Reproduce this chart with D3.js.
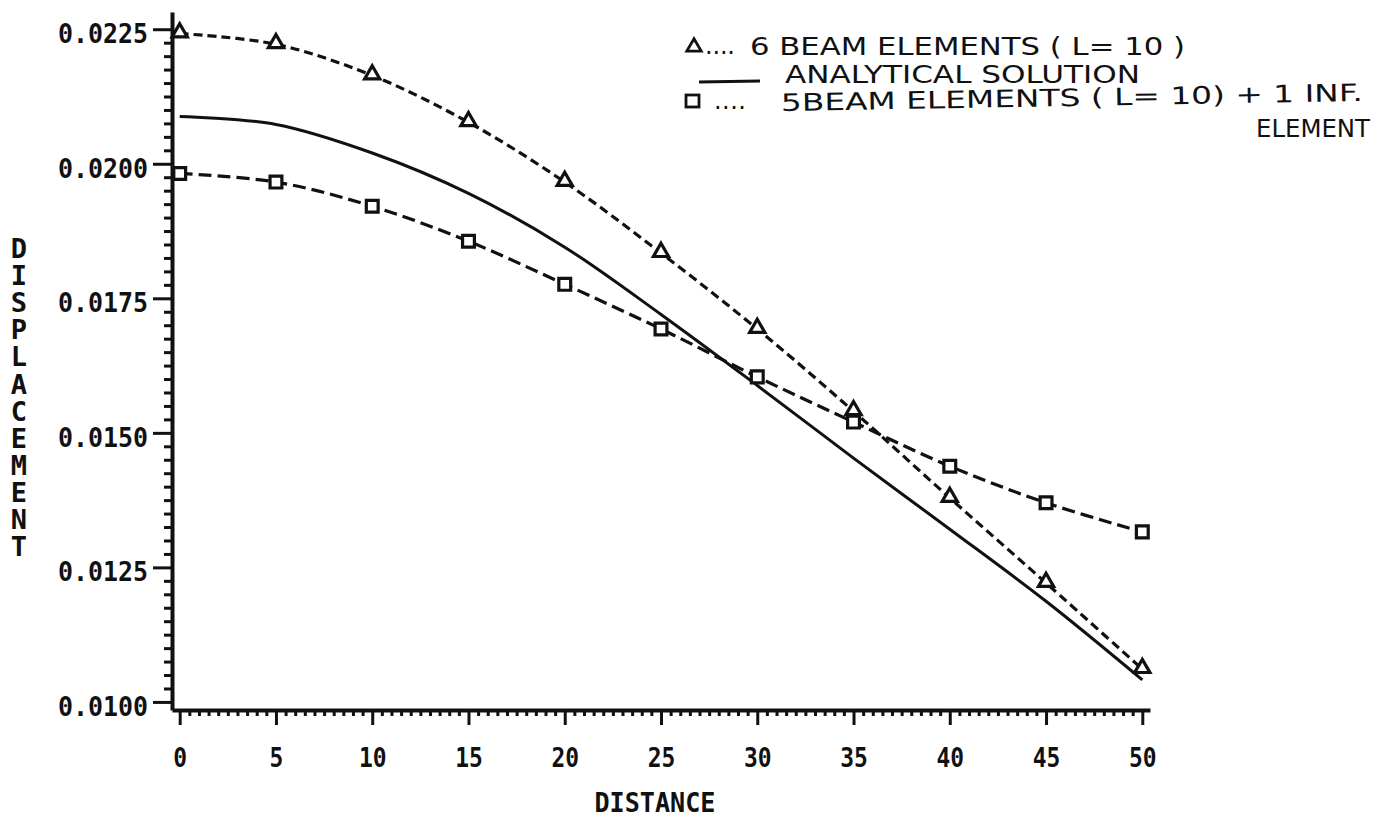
<!DOCTYPE html>
<html><head><meta charset="utf-8">
<script src="https://cdn.jsdelivr.net/npm/d3@7"></script>
<style>body{margin:0;background:#fff} svg{display:block}</style>
</head><body><svg id="c" width="1388" height="817"></svg>
<script>
// ---- data ----
const distance   = [0, 5, 10, 15, 20, 25, 30, 35, 40, 45, 50];
const beam6      = [0.02242, 0.02222, 0.02164, 0.02077, 0.01966, 0.01834, 0.01693, 0.01540, 0.01379, 0.01221, 0.01061];
const analytical = [0.02088, 0.02073, 0.02020, 0.01945, 0.01845, 0.01720, 0.01588, 0.01453, 0.01321, 0.01187, 0.01041];
const beam5inf   = [0.01982, 0.01966, 0.01921, 0.01856, 0.01776, 0.01693, 0.01604, 0.01520, 0.01438, 0.01370, 0.01316];
const xTickValues = [0, 5, 10, 15, 20, 25, 30, 35, 40, 45, 50];
const yTickValues = [0.0100, 0.0125, 0.0150, 0.0175, 0.0200, 0.0225];
const yTickLabels = ["0.0100", "0.0125", "0.0150", "0.0175", "0.0200", "0.0225"];
const xTitle = "DISTANCE";
const yTitle = "DISPLACEMENT";
const legendLabels = ["6 BEAM ELEMENTS ( L= 10 )", "ANALYTICAL SOLUTION", "5BEAM ELEMENTS ( L= 10) + 1 INF.", "ELEMENT"];

const svg = d3.select("#c");
const ink = "#111";
const mono = "'DejaVu Sans Mono', monospace";

const x = d3.scaleLinear().domain([-0.4, 50.4]).range([172, 1150]);
const y = d3.scaleLinear().domain([0.00985, 0.02282]).range([710, 12]);

// minor tick values
const xMinor = d3.range(0, 101).map(i => i * 0.5).filter(v => v % 5 !== 0);
const yMinor = d3.range(40, 92).map(i => i * 0.00025).filter(v => Math.round(v * 10000) % 25 !== 0 && v < 0.02251);

// ---- axes ----
const gx = svg.append("g").attr("transform", `translate(0,${y.range()[0]})`);
gx.append("g").call(d3.axisBottom(x).tickValues(xMinor).tickSize(6).tickSizeOuter(0).tickFormat(""))
  .call(g => g.select(".domain").remove());
gx.append("g").call(d3.axisBottom(x).tickValues(xTickValues).tickSize(15).tickSizeOuter(0).tickPadding(24).tickFormat(d3.format("d")));
gx.selectAll("line").attr("stroke", ink).attr("stroke-width", 3);
gx.selectAll(".domain").attr("stroke", ink).attr("stroke-width", 4);
gx.selectAll("text").attr("fill", ink).attr("font-family", mono).attr("font-weight", "bold").attr("font-size", 26)
  .attr("textLength", d => String(d).length * 13.8).attr("lengthAdjust", "spacingAndGlyphs");

const gy = svg.append("g").attr("transform", `translate(${x.range()[0]},0)`);
gy.append("g").call(d3.axisLeft(y).tickValues(yMinor).tickSize(8).tickSizeOuter(0).tickFormat(""))
  .call(g => g.select(".domain").remove());
gy.append("g").call(d3.axisLeft(y).tickValues(yTickValues).tickSize(19).tickSizeOuter(0).tickPadding(5)
  .tickFormat((d, i) => yTickLabels[i]));
gy.selectAll("line").attr("stroke", ink).attr("stroke-width", 3);
gy.selectAll(".domain").attr("stroke", ink).attr("stroke-width", 4);
gy.selectAll("text").attr("fill", ink).attr("font-family", mono).attr("font-weight", "bold").attr("font-size", 27)
  .attr("dy", "0.5em").attr("textLength", 90).attr("lengthAdjust", "spacingAndGlyphs");

// titles
svg.append("text").attr("x", 655).attr("y", 812).attr("text-anchor", "middle")
  .attr("font-family", mono).attr("font-weight", "bold").attr("font-size", 26).attr("fill", ink)
  .attr("textLength", 121).attr("lengthAdjust", "spacingAndGlyphs").text(xTitle);
svg.append("text").attr("x", 19).attr("y", 233)
  .attr("font-family", mono).attr("font-weight", "bold").attr("font-size", 27).attr("fill", ink)
  .style("writing-mode", "vertical-rl").style("text-orientation", "upright").style("letter-spacing", "-3.9px")
  .text(yTitle);

// ---- series ----
const line = vals => d3.line().x((d, i) => x(distance[i])).y(d => y(d)).curve(d3.curveCatmullRom)(vals);

svg.append("path").attr("d", line(analytical)).attr("fill", "none").attr("stroke", ink).attr("stroke-width", 3);
svg.append("path").attr("d", line(beam6)).attr("fill", "none").attr("stroke", ink).attr("stroke-width", 3.2).attr("stroke-dasharray", "9,5");
svg.append("path").attr("d", line(beam5inf)).attr("fill", "none").attr("stroke", ink).attr("stroke-width", 3.2).attr("stroke-dasharray", "13,6");

const tri = d3.symbol().type(d3.symbolTriangle).size(100)();
const sq = d3.symbol().type(d3.symbolSquare).size(140)();
svg.append("g").selectAll("path").data(beam6).join("path")
  .attr("d", tri).attr("transform", (d, i) => `translate(${x(distance[i])},${y(d) - 1})`)
  .attr("fill", "#fff").attr("stroke", ink).attr("stroke-width", 3.2);
svg.append("g").selectAll("path").data(beam5inf).join("path")
  .attr("d", sq).attr("transform", (d, i) => `translate(${x(distance[i])},${y(d)})`)
  .attr("fill", "#fff").attr("stroke", ink).attr("stroke-width", 3.2);

// ---- legend ----
const hand = "'DejaVu Sans', sans-serif";
const lg = svg.append("g").attr("fill", ink).attr("font-family", hand).attr("font-size", 24);
lg.append("path").attr("d", d3.symbol().type(d3.symbolTriangle).size(90)()).attr("transform", "translate(694,47)")
  .attr("fill", "none").attr("stroke", ink).attr("stroke-width", 2.8);
lg.append("text").attr("x", 705).attr("y", 54).attr("textLength", 30).attr("lengthAdjust", "spacing").text("....");
lg.append("text").attr("x", 750).attr("y", 55).attr("textLength", 435).attr("lengthAdjust", "spacingAndGlyphs").text(legendLabels[0]);
lg.append("line").attr("x1", 699).attr("x2", 760).attr("y1", 82).attr("y2", 81).attr("stroke", ink).attr("stroke-width", 3);
lg.append("text").attr("x", 785).attr("y", 83).attr("textLength", 355).attr("lengthAdjust", "spacingAndGlyphs").text(legendLabels[1]);
lg.append("rect").attr("x", 686).attr("y", 95).attr("width", 13).attr("height", 12)
  .attr("fill", "none").attr("stroke", ink).attr("stroke-width", 2.8);
lg.append("text").attr("x", 714).attr("y", 109).attr("textLength", 32).attr("lengthAdjust", "spacing").text("....");
lg.append("text").attr("x", 781).attr("y", 111).attr("textLength", 582).attr("lengthAdjust", "spacingAndGlyphs")
  .attr("transform", "rotate(-1,781,111)").text(legendLabels[2]);
lg.append("text").attr("x", 1256).attr("y", 137).attr("textLength", 114).attr("lengthAdjust", "spacingAndGlyphs").text(legendLabels[3]);
</script></body></html>
